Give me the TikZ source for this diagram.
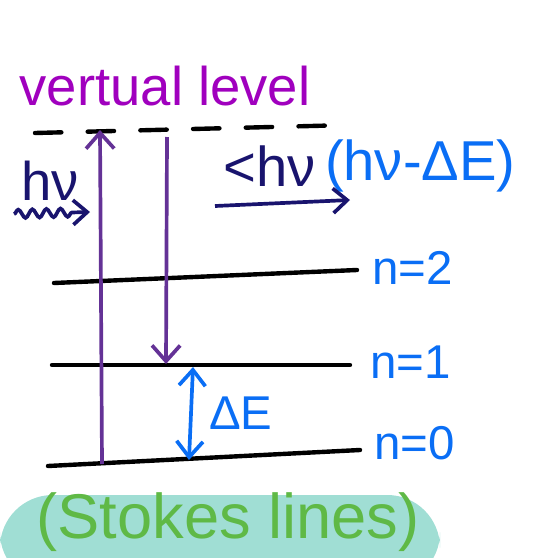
\documentclass[tikz,border=0pt]{standalone}
\usepackage{fontspec}
\setmainfont{Liberation Sans}
\usetikzlibrary{arrows.meta, decorations.pathmorphing, positioning}
\definecolor{myviolet}{RGB}{160,0,190}
\definecolor{mypurple}{RGB}{100,50,150}
\definecolor{mynavy}{RGB}{25,20,110}
\definecolor{myblue}{RGB}{10,110,245}
\definecolor{mygreen}{RGB}{95,185,70}
\definecolor{myteal}{RGB}{160,222,212}
\tikzstyle{level} = [line width=2.5pt, line cap=round, black]
\tikzstyle{vlevel} = [level, dash pattern=on 15pt off 15pt]
\tikzstyle{trans} = [line width=2.1pt, mypurple, -{Straight Barb[length=9pt, width=16pt, line width=2.1pt]}]
\tikzstyle{gap} = [line width=2.1pt, myblue, {Straight Barb[length=9pt, width=15pt, line width=2.1pt]}-{Straight Barb[length=9pt, width=15pt, line width=2.1pt]}]
\tikzstyle{photon} = [line width=2.1pt, mynavy, -{Straight Barb[length=8pt, width=14pt, line width=2.1pt]}]
\tikzstyle{nlabel} = [text=myblue, font=\fontsize{27}{27}\selectfont, anchor=west]
\begin{document}
\begin{tikzpicture}[x=0.02cm, y=-0.02cm]
    \clip (0,0) rectangle (538,558);
    % bottom note
    \fill[myteal, rounded corners=30] (0,495) rectangle (440,585);
    \node (stokes) [text=mygreen, font=\fontsize{36}{36}\selectfont] at (228,522) {(Stokes lines)};
    % virtual level
    \node (virt) [text=myviolet, font=\fontsize{31}{31}\selectfont] at (165,86) {vertual level};
    \coordinate (vl) at (35,133);
    \coordinate (vr) at (350,125);
    \draw[vlevel] (vl) -- (vr);
    % energy levels
    \coordinate (l2) at (54,283);
    \coordinate (r2) at (357,270);
    \coordinate (l1) at (52,365);
    \coordinate (r1) at (350,365);
    \coordinate (l0) at (48,466);
    \coordinate (r0) at (360,450);
    \draw[level] (l2) -- (r2);
    \draw[level] (l1) -- (r1);
    \draw[level] (l0) -- (r0);
    \node (n2) [nlabel] at (366,268) {n=2};
    \node (n1) [nlabel] at (364,362) {n=1};
    \node (n0) [nlabel] at (368,443) {n=0};
    % transitions
    \coordinate (up0) at (102,464);
    \coordinate (up1) at (100,130);
    \coordinate (dn0) at (167,137);
    \coordinate (dn1) at (166,364);
    \draw[trans] (up0) -- (up1);
    \draw[trans] (dn0) -- (dn1);
    \coordinate (de1) at (193,367);
    \coordinate (de0) at (189,460);
    \draw[gap] (de1) -- node[right=6pt, text=myblue, font=\fontsize{27}{27}\selectfont] (de) {ΔE} (de0);
    % photons
    \node (hin) [text=mynavy, font=\fontsize{31}{31}\selectfont] at (50,181) {hν};
    \coordinate (wl) at (14,214);
    \coordinate (wr) at (90,212);
    \draw[photon, decorate, decoration={snake, amplitude=2.4pt, segment length=8pt, post length=9pt}] (wl) -- (wr);
    \node (hout) [text=mynavy, font=\fontsize{32}{32}\selectfont] at (270,166) {<hν};
    \node (shift) [right=-2pt of hout, text=myblue, font=\fontsize{32}{32}\selectfont] {(hν-ΔE)};
    \coordinate (sl) at (215,206);
    \coordinate (sr) at (350,200);
    \draw[photon] (sl) -- (sr);
\end{tikzpicture}
\end{document}
